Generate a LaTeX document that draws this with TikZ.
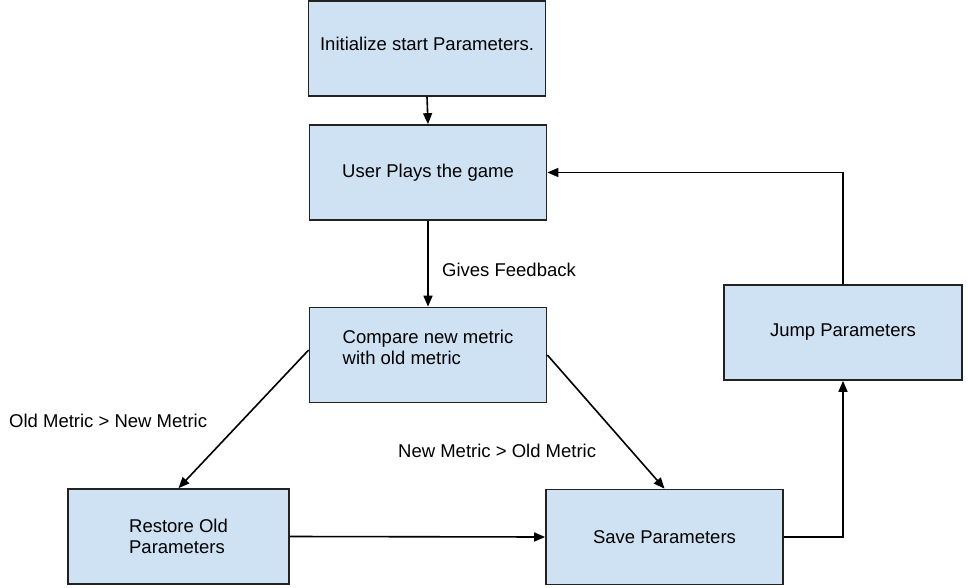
\documentclass[tikz,border=0pt]{standalone}
\usepackage{fontspec}
\setmainfont{Liberation Sans}
\usepackage{tikz}
\usetikzlibrary{arrows.meta, positioning}

\definecolor{boxfill}{HTML}{CFE2F3}
\definecolor{boxline}{HTML}{222222}

\begin{document}
\begin{tikzpicture}[x=1pt, y=-1pt,
  stepbox/.style={draw=boxline, fill=boxfill, line width=1.7pt,
    minimum width=237pt, minimum height=95pt,
    align=left, font=\fontsize{18.5}{21}\selectfont},
  flow/.style={-{Triangle[length=11pt, width=9pt]}, line width=1.6pt, draw=black},
  condlabel/.style={font=\fontsize{18.5}{21}\selectfont, anchor=west, inner sep=0pt}
]
\useasboundingbox (0,0) rectangle (968,588);

%% ── Steps ──
\node[stepbox, text depth=10pt] (init) at (427,48.5) {Initialize start Parameters.};
\node[stepbox] (user)    at (428,172.5) {User Plays the game};
\node[stepbox, text depth=16pt] (compare) at (428,355) {Compare new metric\\with old metric};
\node[stepbox, minimum width=221pt] (restore) at (178.5,536.5) {Restore Old\\Parameters};
\node[stepbox] (save)    at (664.5,537) {Save Parameters};
\node[stepbox, minimum width=238pt] (jump) at (843,332.5) {Jump Parameters};

%% ── Labels ──
\node[condlabel] (fbk)   at (442,270) {Gives Feedback};
\node[condlabel] (oldgt) at (9,421)   {Old Metric > New Metric};
\node[condlabel] (newgt) at (398,451) {New Metric > Old Metric};

%% ── Flow ──
\draw[flow] (init.south) -- (user.north);
\draw[flow] (user.south) -- (compare.north);
\draw[flow] ([yshift=5pt]compare.west) -- (restore.north);
\draw[flow] (compare.east) -- (save.north);
\draw[flow] (restore.east) -- (save.west);
\draw[flow] (save.east) -| (jump.south);
\draw[flow] (jump.north) |- (user.east);

\end{tikzpicture}
\end{document}
